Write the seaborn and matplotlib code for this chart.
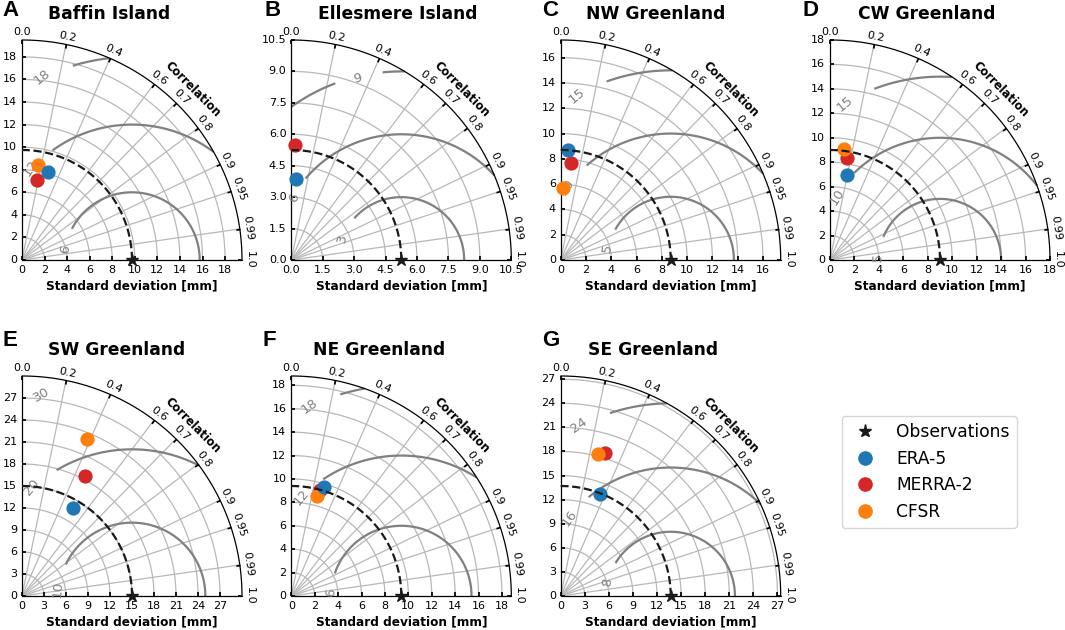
import numpy as np
import matplotlib
matplotlib.use("Agg")
import matplotlib.pyplot as plt
import seaborn as sns
from matplotlib.projections import PolarAxes
from matplotlib.lines import Line2D
import mpl_toolkits.axisartist.floating_axes as FA
import mpl_toolkits.axisartist.grid_finder as GF

# region names and panel letters
regions = ["Baffin Island", "Ellesmere Island", "NW Greenland", "CW Greenland",
           "SW Greenland", "NE Greenland", "SE Greenland"]
letters = ["A", "B", "C", "D", "E", "F", "G"]

# observed standard deviation per region
obs_std = [9.75, 5.25, 8.7, 9.0, 15.0, 9.4, 13.7]

# reanalysis standard deviation and correlation per region
era5_std = [8.13, 3.85, 8.68, 7.12, 13.85, 9.73, 13.57]
era5_cor = [0.28, 0.055, 0.067, 0.20, 0.505, 0.286, 0.357]
merra_std = [7.23, 5.51, 7.7, 8.45, 18.5, 9.35, 18.67]
merra_cor = [0.19, 0.029, 0.109, 0.164, 0.464, 0.261, 0.298]
cfsr_std = [8.51, np.nan, 5.71, 9.12, 23.15, 8.85, 18.3]
cfsr_cor = [0.163, np.nan, 0.03, 0.125, 0.381, 0.247, 0.254]

# axis setup per region
std_ticks = [
    [0, 2, 4, 6, 8, 10, 12, 14, 16, 18],
    [0.0, 1.5, 3.0, 4.5, 6.0, 7.5, 9.0, 10.5],
    [0, 2, 4, 6, 8, 10, 12, 14, 16],
    [0, 2, 4, 6, 8, 10, 12, 14, 16, 18],
    [0, 3, 6, 9, 12, 15, 18, 21, 24, 27],
    [0, 2, 4, 6, 8, 10, 12, 14, 16, 18],
    [0, 3, 6, 9, 12, 15, 18, 21, 24, 27],
]
rms_levels = [[6, 12, 18], [3, 6, 9], [5, 10, 15], [5, 10, 15],
              [10, 20, 30], [6, 12, 18], [8, 16, 24]]

# stretch of each RMS arc left out around its label, as (from, to) along x in mm
rms_gaps = [
    [(0, 4.4), (0, 2.7), (0, 4.5)],
    [(0, 3.0), (0, 0.68), (2.12, 4.35)],
    [(0, 4.3), (0, 2.05), (0, 3.6)],
    [(0, 4.35), (0, 1.96), (0, 3.6)],
    [(0, 5.95), (0, 4.7), (0, 30)],
    [(0, 3.7), (0, 2.7), (0, 4.15)],
    [(0, 6.8), (0, 3.47), (0, 6.07)],
]
# where the RMS labels sit: x, y in mm and rotation
rms_labels = [
    [(3.83, 0.98, 80), (0.77, 8.16, 55), (1.81, 16.26, 38)],
    [(2.44, 1.05, 80), (0.13, 2.95, 70), (3.15, 8.66, 13)],
    [(3.71, 0.92, 80), (0.47, 5.8, 55), (1.26, 12.95, 40)],
    [(3.95, 0.22, 85), (0.55, 5.18, 58), (1.23, 12.8, 40)],
    [(4.82, 0.95, 85), (1.32, 14.8, 50), (2.68, 27.5, 30)],
    [(3.38, 0.28, 85), (0.88, 8.47, 50), (1.59, 16.2, 35)],
    [(5.77, 1.67, 80), (1.09, 9.75, 55), (2.3, 21.25, 35)],
]

corr_ticks = [0, 0.2, 0.4, 0.6, 0.7, 0.8, 0.9, 0.95, 0.99, 1]

# layout in pixels
W, H = 1065, 630
origins = [(22, 260), (291.3, 260), (560.7, 260), (830, 260),
           (22, 596), (291.3, 596), (560.7, 596)]
letter_x = [2, 265, 542, 802, 2, 263, 542]
letter_y = [11, 11, 11, 11, 340, 340, 340]
title_off = [26, 27, 25, 28, 26, 22, 27]
size = 220

sns.set_theme(style="white", rc={
    "text.color": "black", "axes.labelcolor": "black", "xtick.color": "black",
    "ytick.color": "black", "axes.edgecolor": "black", "axes.linewidth": 0.9,
})
plt.rcParams["font.family"] = ["DejaVu Sans"]

colors = {"ERA-5": "tab:blue", "MERRA-2": "tab:red", "CFSR": "tab:orange"}

fig = plt.figure(figsize=(W / 100, H / 100), dpi=100)


def taylor_panel(i):
    ref = obs_std[i]
    rmax = 2 * ref
    tlocs = np.arccos(corr_ticks)
    tr = PolarAxes.PolarTransform(apply_theta_transforms=False)
    helper = FA.GridHelperCurveLinear(
        tr, extremes=(0, np.pi / 2, 0, rmax),
        grid_locator1=GF.FixedLocator(tlocs),
        tick_formatter1=GF.DictFormatter(dict(zip(tlocs, map(str, map(float, corr_ticks))))),
        grid_locator2=GF.FixedLocator(std_ticks[i]),
        tick_formatter2=GF.DictFormatter({t: str(t) for t in std_ticks[i]}),
    )
    x0, y0 = origins[i]
    # floating axes pad their limits by 1% on each side
    box = size * 1.02
    pad = size * 0.01
    rect = [(x0 - pad) / W, 1 - (y0 + pad) / H, box / W, box / H]
    base = fig.add_axes(rect, axes_class=FA.FloatingAxes, grid_helper=helper)

    top = base.axis["top"]
    top.set_axis_direction("bottom")
    top.toggle(ticklabels=True, label=True)
    top.major_ticklabels.set_axis_direction("top")
    top.label.set_axis_direction("top")
    top.label.set_text("Correlation")

    left = base.axis["left"]
    left.set_axis_direction("bottom")
    left.toggle(ticklabels=True, label=True)
    left.label.set_text("Standard deviation [mm]")

    right = base.axis["right"]
    right.set_axis_direction("top")
    right.toggle(ticklabels=True)
    right.major_ticklabels.set_axis_direction("left")

    for side in (top, left, right):
        side.major_ticklabels.set_fontsize(8)
        side.major_ticks.set_ticksize(3)
        side.label.set_fontsize(8.7)
        side.label.set_fontweight("bold")
    top.label.set_fontsize(8.3)
    top.label.set_pad(1)
    base.axis["bottom"].set_visible(False)
    base.grid(True, color="#b8b8b8", lw=0.9)

    aux = base.get_aux_axes(tr)

    # centred RMS arcs around the observations
    rs, ts = np.meshgrid(np.linspace(0, rmax, 400), np.linspace(0, np.pi / 2, 400))
    rms = np.sqrt(ref ** 2 + rs ** 2 - 2 * ref * rs * np.cos(ts))
    xs = rs * np.cos(ts)
    for level, (lo, hi), (lx, ly, rot) in zip(rms_levels[i], rms_gaps[i], rms_labels[i]):
        mask = (xs >= lo) & (xs <= hi)
        base.text(lx, ly, str(level), color="gray", fontsize=9.5, rotation=rot,
                  ha="center", va="center", rotation_mode="anchor")
        if mask.all() or rmax < hi:
            continue
        aux.contour(ts, rs, np.ma.masked_where(mask, rms), levels=[level],
                    colors="gray", linewidths=1.6)

    t = np.linspace(0, np.pi / 2, 100)
    aux.plot(t, np.full_like(t, ref), "k--", lw=1.6, zorder=7)
    aux.plot([0], [ref], "k*", ms=9, zorder=8, clip_on=False)

    for name, std, cor in [("MERRA-2", merra_std, merra_cor), ("CFSR", cfsr_std, cfsr_cor),
                           ("ERA-5", era5_std, era5_cor)]:
        if np.isnan(std[i]):
            continue
        sns.scatterplot(x=[np.arccos(cor[i])], y=[std[i]], ax=aux, color=colors[name],
                        s=105, linewidth=0, zorder=6, clip_on=False, legend=False)

    fig.text((x0 + title_off[i]) / W, 1 - (y0 - 246) / H, regions[i], ha="left", va="center",
             fontsize=12.3, fontweight="bold")
    fig.text(letter_x[i] / W, 1 - letter_y[i] / H, letters[i], ha="left", va="center",
             fontsize=16, fontweight="bold", family="Liberation Sans")


for i in range(len(regions)):
    taylor_panel(i)

handles = [Line2D([], [], ls="", marker="*", color="k", ms=9.5, label="Observations")]
for name in colors:
    handles.append(Line2D([], [], ls="", marker="o", color=colors[name], ms=9.5, label=name))
fig.legend(handles=handles, loc="center", bbox_to_anchor=(929 / W, 1 - 472 / H), fontsize=12.3)

fig.savefig("out.png", dpi=100)
